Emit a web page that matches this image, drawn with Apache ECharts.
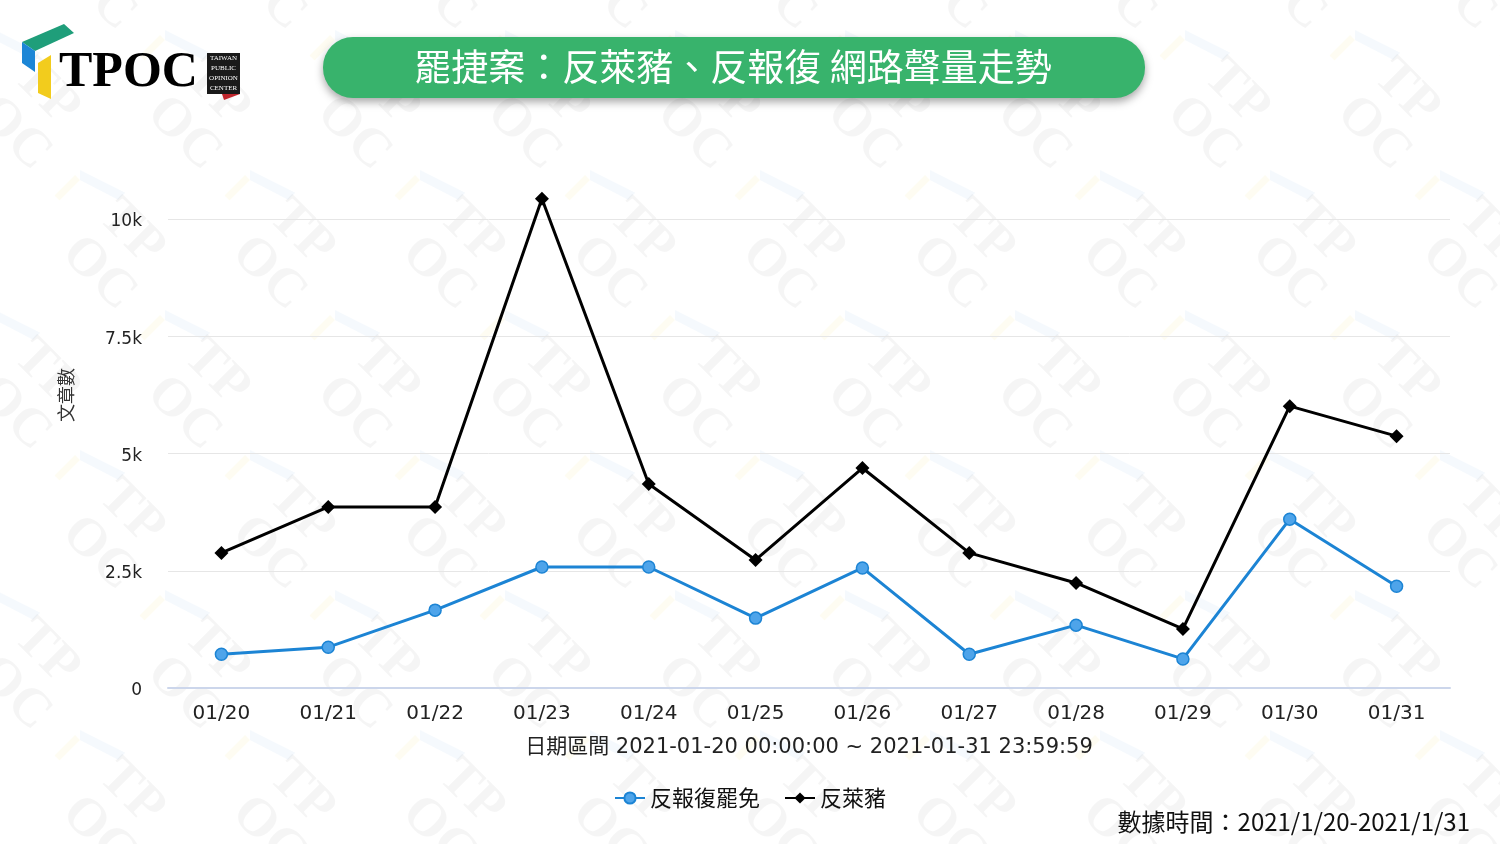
<!DOCTYPE html>
<html>
<head>
<meta charset="utf-8">
<script src="https://cdn.jsdelivr.net/npm/echarts@6/dist/echarts.min.js"></script>
<style>
html,body{margin:0;padding:0;background:#fff;}
#c{width:1500px;height:844px;}
</style>
</head>
<body>
<div id="c"></div>
<script>
const categories = ['01/20','01/21','01/22','01/23','01/24','01/25','01/26','01/27','01/28','01/29','01/30','01/31'];
const seriesRevenge = [720, 870, 1660, 2580, 2580, 1490, 2560, 720, 1340, 620, 3600, 2170];
const seriesPork = [2880, 3860, 3860, 10430, 4350, 2730, 4690, 2880, 2240, 1260, 6010, 5370];
const yTicks = [0, 2500, 5000, 7500, 10000];
const titleText = '罷捷案：反萊豬、反報復 網路聲量走勢';
const xAxisName = '日期區間 2021-01-20 00:00:00 ~ 2021-01-31 23:59:59';
const yAxisName = '文章數';
const footText = '數據時間：2021/1/20-2021/1/31';

const chart = echarts.init(document.getElementById('c'), null, {renderer: 'canvas'});

// faint watermark pattern
const wm = [];
for (let r = -1; r < 6; r++) {
  for (let c = -1; c < 10; c++) {
    const x = c * 170 + (r % 2 ? 85 : 0) + 40;
    const y = r * 140 + 50;
    wm.push({
      type: 'text', x: x, y: y, rotation: -Math.PI / 4, z: -10, silent: true,
      style: {text: 'TP\nOC', fill: 'rgba(0,0,0,0.04)', font: 'bold 54px "Liberation Serif", serif', lineHeight: 52}
    });
    wm.push({
      type: 'polygon', x: x - 45, y: y - 20, rotation: -Math.PI / 4, z: -10, silent: true,
      shape: {points: [[0,0],[48,-16],[48,-6],[7,7]]},
      style: {fill: 'rgba(60,140,220,0.05)'}
    });
    wm.push({
      type: 'polygon', x: x - 45, y: y - 20, rotation: -Math.PI / 4, z: -10, silent: true,
      shape: {points: [[0,7],[7,7],[7,36],[0,36]]},
      style: {fill: 'rgba(240,200,40,0.06)'}
    });
  }
}

const option = {
  backgroundColor: '#ffffff',
  animation: false,
  grid: {left: 168, right: 50, top: 219, bottom: 156, containLabel: false},
  xAxis: {
    type: 'category',
    data: categories,
    boundaryGap: true,
    axisLine: {lineStyle: {color: '#ccd6eb', width: 2}},
    axisTick: {alignWithLabel: true, length: 11, lineStyle: {color: '#ccd6eb', width: 1}},
    axisLabel: {color: '#222', fontSize: 20, margin: 16, fontFamily: '"DejaVu Sans", sans-serif'},
    name: xAxisName,
    nameLocation: 'middle',
    nameGap: 49,
    nameTextStyle: {color: '#222', fontSize: 21, fontFamily: '"DejaVu Sans", "Noto Sans CJK TC", sans-serif'}
  },
  yAxis: {
    type: 'value',
    min: 0,
    max: 10000,
    interval: 2500,
    axisLine: {show: false},
    axisTick: {show: false},
    splitLine: {lineStyle: {color: '#e6e6e6', width: 1}},
    axisLabel: {
      color: '#222', fontSize: 17, margin: 26, fontFamily: '"DejaVu Sans", sans-serif',
      formatter: function (v) {
        if (yTicks.indexOf(v) < 0) return '';
        return '{a|' + (v === 0 ? '0' : (v / 1000) + 'k') + '}';
      },
      rich: {a: {fontSize: 17, color: '#222', fontFamily: '"DejaVu Sans", sans-serif', padding: [6, 0, 0, 0]}}
    }
  },
  legend: {
    bottom: 30,
    left: 'center',
    itemGap: 24,
    itemWidth: 30,
    itemHeight: 14,
    textStyle: {color: '#111', fontSize: 22, fontFamily: '"Noto Sans CJK TC", sans-serif'},
    data: ['反報復罷免', '反萊豬']
  },
  series: [
    {
      name: '反報復罷免',
      type: 'line',
      data: seriesRevenge,
      clip: false,
      symbol: 'circle',
      symbolSize: 12,
      lineStyle: {color: '#1c84d4', width: 3},
      itemStyle: {color: '#4ea4ea', borderColor: '#1c84d4', borderWidth: 1.5},
      z: 3
    },
    {
      name: '反萊豬',
      type: 'line',
      data: seriesPork,
      clip: false,
      symbol: 'diamond',
      symbolSize: 14,
      lineStyle: {color: '#000000', width: 3},
      itemStyle: {color: '#000000'},
      z: 4
    }
  ],
  graphic: wm.concat([
    {
      type: 'rect', z: 5, silent: true,
      shape: {x: 323, y: 37, width: 822, height: 61, r: 30},
      style: {fill: '#38b36c', shadowBlur: 8, shadowOffsetY: 4, shadowColor: 'rgba(0,0,0,0.35)'}
    },
    {
      type: 'text', z: 6, silent: true,
      style: {
        text: titleText, x: 733, y: 67, align: 'center', verticalAlign: 'middle',
        fill: '#ffffff', font: '37px "Noto Sans CJK TC", sans-serif'
      }
    },
    // logo
    {
      type: 'polygon', z: 5, silent: true,
      shape: {points: [[22,42],[64,24],[74,33],[35,51]]},
      style: {fill: '#1f9e7a'}
    },
    {
      type: 'polygon', z: 5, silent: true,
      shape: {points: [[22,42],[35,51],[35,72],[22,63]]},
      style: {fill: '#1c86d6'}
    },
    {
      type: 'polygon', z: 5, silent: true,
      shape: {points: [[38,63],[51,55],[51,99],[38,93]]},
      style: {fill: '#f2cc1d'}
    },
    {
      type: 'text', z: 5, silent: true,
      style: {text: 'TPOC', x: 59, y: 73, verticalAlign: 'middle', fill: '#000',
        font: 'bold 50px "Liberation Serif", "DejaVu Serif", serif'}
    },
    {
      type: 'rect', z: 5, silent: true,
      shape: {x: 207, y: 53, width: 33, height: 41},
      style: {fill: '#1a1a1a'}
    },
    {
      type: 'polygon', z: 5, silent: true,
      shape: {points: [[222,94],[240,94],[224,100]]},
      style: {fill: '#c0262d'}
    },
    {
      type: 'text', z: 6, silent: true,
      style: {text: 'TAIWAN\nPUBLIC\nOPINION\nCENTER', x: 223.5, y: 73.5, align: 'center', verticalAlign: 'middle',
        fill: '#ffffff', font: '7px "Liberation Serif", serif', lineHeight: 10}
    },
    {
      type: 'text', z: 5, silent: true, x: 66, y: 395, rotation: Math.PI / 2,
      style: {text: yAxisName, align: 'center', verticalAlign: 'middle', fill: '#333',
        font: '18px "Noto Sans CJK TC", sans-serif'}
    },
    {
      type: 'text', z: 5, silent: true,
      style: {text: footText, x: 1470, y: 822, align: 'right', verticalAlign: 'middle', fill: '#111',
        font: '24px "Noto Sans CJK TC", sans-serif'}
    }
  ])
};
chart.setOption(option);
</script>
</body>
</html>
